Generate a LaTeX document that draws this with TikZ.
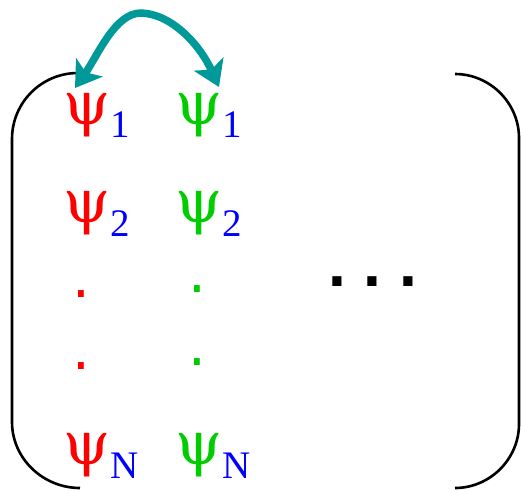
\documentclass[tikz,border=0pt]{standalone}
\usepackage{fontspec}
\setmainfont{Liberation Serif}
\newfontfamily\psifont{DejaVu Serif}
\newfontfamily\dotfont{DejaVu Sans}
\newfontfamily\dotfontbold{DejaVu Sans Bold}
\usetikzlibrary{arrows.meta}
\definecolor{psired}{RGB}{255,0,0}
\definecolor{psigreen}{RGB}{0,204,0}
\definecolor{idxblue}{RGB}{0,0,255}
\definecolor{swapteal}{RGB}{0,153,153}
\tikzset{
  psi/.style={anchor=south west, inner sep=0pt, font=\psifont\fontsize{60}{60}\selectfont},
  idx/.style={anchor=south west, inner sep=0pt, idxblue, font=\fontsize{39}{39}\selectfont},
  vdot/.style={inner sep=0pt, font=\dotfont\fontsize{56}{56}\selectfont},
  hdot/.style={inner sep=0pt, font=\dotfontbold\fontsize{52}{52}\selectfont},
  bracket/.style={line width=2.6pt, line cap=butt},
  swap/.style={swapteal, line width=7.5pt, {Stealth[length=25pt,width=32pt,inset=6pt]}-{Stealth[length=25pt,width=32pt,inset=6pt]}}
}
\begin{document}
\begin{tikzpicture}[x=1pt,y=-1pt]
\useasboundingbox (0,0) rectangle (521,490);
% left bracket
\draw[bracket] (78,73) .. controls (41.5,73) and (12,102.5) .. (12,139)
  -- (12,422) .. controls (12,458.5) and (43,488) .. (80,488);
% right bracket
\draw[bracket] (455,74) .. controls (490,74) and (519,103) .. (519,138)
  -- (519,424) .. controls (519,459) and (490,488) .. (455,488);
% first column
\node[psi, psired] (r1) at (63,137) {ψ};
\node[idx] (r1i) at (r1.east |- 0,138) {1};
\node[psi, psired] (r2) at (63,235) {ψ};
\node[idx] (r2i) at (r2.east |- 0,237) {2};
\node[vdot, psired] (rd1) at (81,294) {.};
\node[vdot, psired] (rd2) at (81,366) {.};
\node[psi, psired] (rN) at (63,477) {ψ};
\node[idx] (rNi) at (rN.east |- 0,479) {N};
% second column
\node[psi, psigreen] (g1) at (175,137) {ψ};
\node[idx] (g1i) at (g1.east |- 0,138) {1};
\node[psi, psigreen] (g2) at (175,235) {ψ};
\node[idx] (g2i) at (g2.east |- 0,237) {2};
\node[vdot, psigreen] (gd1) at (197,289) {.};
\node[vdot, psigreen] (gd2) at (197,362) {.};
\node[psi, psigreen] (gN) at (175,477) {ψ};
\node[idx] (gNi) at (gN.east |- 0,479) {N};
% horizontal ellipsis
\node[hdot] (e1) at (337,282) {.};
\node[hdot] (e2) at (372.5,282) {.};
\node[hdot] (e3) at (408,282) {.};
% exchange arrow
\coordinate (tl) at (75,88);
\coordinate (tr) at (219,87);
\draw[swap] (tl) .. controls (98,55) and (115,13) .. (141,13)
  .. controls (172,14) and (200,45) .. (tr);
\end{tikzpicture}
\end{document}
